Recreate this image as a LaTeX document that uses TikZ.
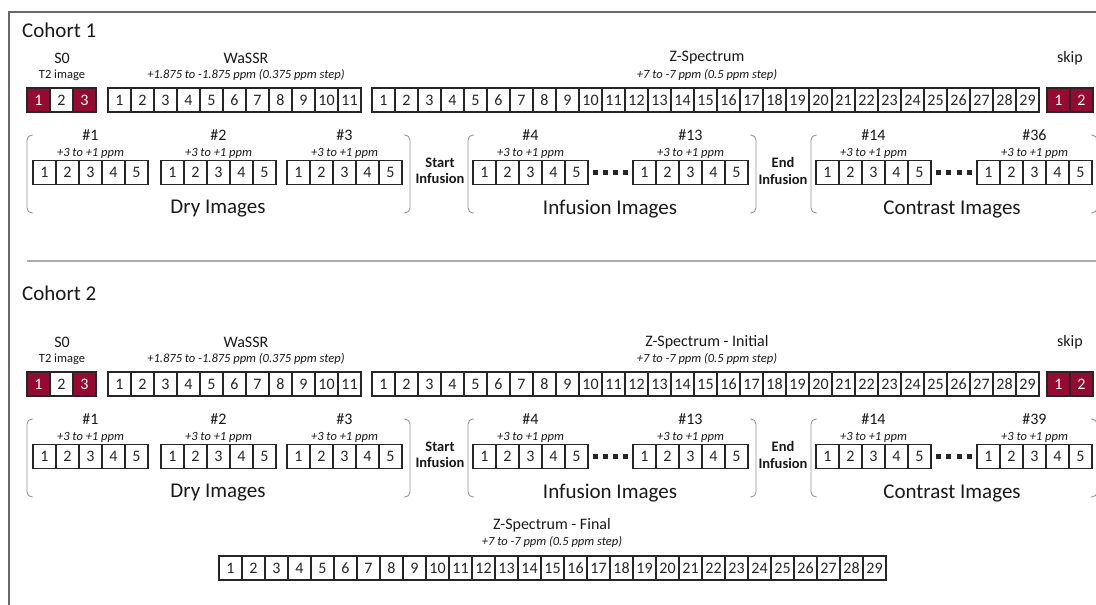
\documentclass[tikz,border=0pt]{standalone}
\usepackage{fontspec}
\setmainfont{Carlito}
\definecolor{maroon}{RGB}{150,10,50}
\definecolor{framegray}{RGB}{105,105,105}
\definecolor{linegray}{RGB}{170,170,170}
\definecolor{brkgray}{RGB}{150,150,150}
\tikzset{
 cell/.style={draw=black!85, line width=1.2pt, minimum width=23pt, minimum height=24pt, inner sep=0pt, font=\fontsize{16}{19}\selectfont, text=black!85},
 redcell/.style={cell, fill=maroon, text=white},
 cohorttitle/.style={font=\fontsize{21}{25}\selectfont, anchor=west, inner sep=0pt, text=black!90},
 lbl/.style={font=\fontsize{16}{19}\selectfont, inner sep=0pt, text=black!90},
 sub/.style={font=\fontsize{12.5}{15}\selectfont, inner sep=0pt, text=black!90},
 subit/.style={font=\fontsize{12.5}{15}\selectfont\itshape, inner sep=0pt, text=black!90},
 big/.style={font=\fontsize{21}{25}\selectfont, inner sep=0pt, text=black!90},
 phase/.style={font=\fontsize{14.5}{16.5}\selectfont\bfseries, align=center, inner sep=0pt, text=black!90},
 dotsq/.style={rectangle, fill=black!85, minimum size=5pt, inner sep=0pt},
 brk/.style={draw=brkgray, line width=0.9pt, rounded corners=5pt},
}
% #1 name, #2 left x, #3 centre y, #4 count, #5 style
\newcommand\cellrow[5]{\foreach \i in {1,...,#4}{\node[#5] (#1-\i) at ({#2+(\i-0.5)*23},{#3}) {\i};}}
% #1 name, #2 left x, #3 cells centre y, #4 label
\newcommand\grp[4]{%
 \node[lbl] (#1-t) at ({#2+57.5},{#3-37.5}) {#4};
 \node[subit] (#1-r) at ({#2+57.5},{#3-19.5}) {+3 to +1 ppm};
 \cellrow{#1}{#2}{#3}{5}{cell}}
% #1 name, #2 gap centre x, #3 y
\newcommand\dotrow[3]{\foreach \k in {0,...,3}{\node[dotsq] (#1-\k) at ({#2-15.5+\k*10.3},{#3}) {};}}
% #1 prefix, #2 offset, #3 title, #4 Z title, #5 last contrast label, #6 title y
\newcommand\cohort[6]{%
 \node[cohorttitle] (#1-title) at (22,#6) {#3};
 \node[lbl] (#1-s0t) at (62,{#2+58}) {S0};
 \node[sub] (#1-s0s) at (62,{#2+75}) {T2 image};
 \node[redcell] (#1-s0-1) at (38.5,{#2+100}) {1};
 \node[cell] (#1-s0-2) at (61.5,{#2+100}) {2};
 \node[redcell] (#1-s0-3) at (84.5,{#2+100}) {3};
 \node[lbl] (#1-wt) at (246,{#2+58}) {WaSSR};
 \node[subit] (#1-wr) at (246,{#2+75}) {+1.875 to -1.875 ppm (0.375 ppm step)};
 \cellrow{#1-w}{108}{#2+100}{11}{cell}
 \node[lbl] (#1-zt) at (707,{#2+58}) {#4};
 \node[subit] (#1-zr) at (707,{#2+75}) {+7 to -7 ppm (0.5 ppm step)};
 \cellrow{#1-z}{372}{#2+100}{29}{cell}
 \node[lbl] (#1-kt) at (1070,{#2+58}) {skip};
 \cellrow{#1-k}{1047}{#2+100}{2}{redcell}
 \grp{#1-g1}{33}{#2+172.5}{\#1}
 \grp{#1-g2}{161}{#2+172.5}{\#2}
 \grp{#1-g3}{287}{#2+172.5}{\#3}
 \grp{#1-g4}{473}{#2+172.5}{\#4}
 \dotrow{#1-d1}{610.5}{#2+172.5}
 \grp{#1-g13}{633}{#2+172.5}{\#13}
 \grp{#1-g14}{816}{#2+172.5}{\#14}
 \dotrow{#1-d2}{954}{#2+172.5}
 \grp{#1-gl}{977}{#2+172.5}{\##5}
 \draw[brk] (33,{#2+135}) -- (27,{#2+135}) -- (27,{#2+213}) -- (33,{#2+213});
 \draw[brk] (404,{#2+135}) -- (410,{#2+135}) -- (410,{#2+213}) -- (404,{#2+213});
 \draw[brk] (474,{#2+135}) -- (468,{#2+135}) -- (468,{#2+213}) -- (474,{#2+213});
 \draw[brk] (750,{#2+135}) -- (756,{#2+135}) -- (756,{#2+213}) -- (750,{#2+213});
 \draw[brk] (817,{#2+135}) -- (811,{#2+135}) -- (811,{#2+213}) -- (817,{#2+213});
 \draw[brk] (1091,{#2+135}) -- (1097,{#2+135}) -- (1097,{#2+213}) -- (1091,{#2+213});
 \node[big] (#1-dry) at (218,{#2+209}) {Dry Images};
 \node[big] (#1-inf) at (610,{#2+209}) {Infusion Images};
 \node[big] (#1-con) at (952,{#2+209}) {Contrast Images};
 \node[phase] (#1-start) at (440,{#2+171}) {Start\\Infusion};
 \node[phase] (#1-end) at (783,{#2+171}) {End\\Infusion};
}
\begin{document}
\begin{tikzpicture}[x=1pt,y=-1pt]
\useasboundingbox (0,0) rectangle (1096,605);
\fill[white] (0,0) rectangle (1096,605);
\coordinate (fbl) at (9,606);
\coordinate (ftl) at (9,12);
\coordinate (ftr) at (1097,12);
\draw[framegray, line width=1.6pt] (fbl) -- (ftl) -- (ftr);
\coordinate (dl) at (27,261);
\coordinate (dr) at (1097,261);
\draw[linegray, line width=1.5pt] (dl) -- (dr);
\cohort{a}{0}{Cohort 1}{Z-Spectrum}{36}{30}
\cohort{b}{284}{Cohort 2}{Z-Spectrum - Initial}{39}{293}
\node[lbl] (ft) at (552,525) {Z-Spectrum - Final};
\node[subit] (fr) at (552,542) {+7 to -7 ppm (0.5 ppm step)};
\cellrow{f}{219}{568}{29}{cell}
\end{tikzpicture}
\end{document}
